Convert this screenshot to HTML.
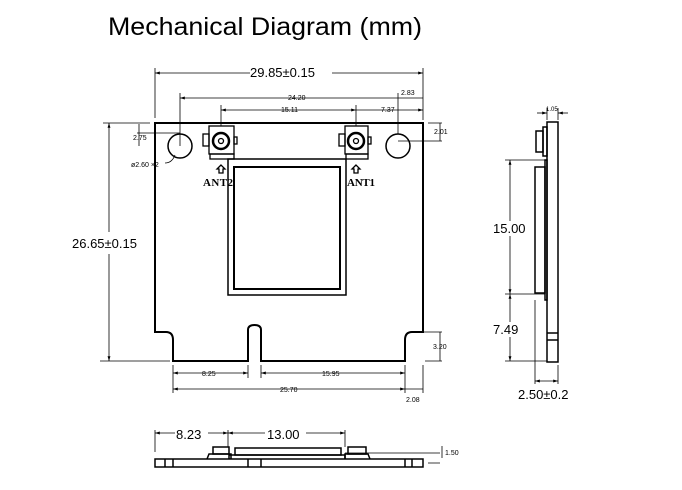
<!DOCTYPE html>
<html><head><style>
body{margin:0;background:#fff;width:682px;height:490px;overflow:hidden}
svg{display:block}
text{font-family:"Liberation Sans",sans-serif;fill:#000}
.s{font-size:7px}
</style></head><body>
<svg width="682" height="490" viewBox="0 0 682 490">
<defs>
<marker id="a" viewBox="0 0 10 10" refX="10" refY="5" markerWidth="6" markerHeight="6" orient="auto-start-reverse"><path d="M0,2 L10,5 L0,8z" fill="#000"/></marker>
</defs>
<text x="108" y="35" font-size="25" textLength="314" lengthAdjust="spacingAndGlyphs">Mechanical Diagram (mm)</text>
<g fill="none" stroke="#000" stroke-width="2">
<path d="M155,123 H423 V332 H412 Q405,332 405,340 V361 H261 V330 Q261,325 254.5,325 Q248,325 248,330 V361 H173 V340 Q173,332 166,332 H155 Z"/>
<rect x="228" y="159" width="118" height="136" stroke-width="1.5"/>
<rect x="234" y="167" width="106" height="122" stroke-width="2"/>
<circle cx="180" cy="146" r="12" stroke-width="1.5"/>
<circle cx="398" cy="146" r="12" stroke-width="1.5"/>
</g>
<g fill="none" stroke="#000" stroke-width="1.3">
<rect x="209" y="126" width="25" height="28"/><rect x="203" y="134" width="6" height="12"/><rect x="234" y="137" width="3" height="7"/>
<circle cx="221" cy="141" r="8" stroke-width="2.5"/><circle cx="221" cy="141" r="2.5"/>
<rect x="210" y="154" width="24" height="5"/>
<rect x="345" y="126" width="23" height="28"/><rect x="339" y="134" width="6" height="12"/><rect x="368" y="137" width="3" height="7"/>
<circle cx="356" cy="141" r="8" stroke-width="2.5"/><circle cx="356" cy="141" r="2.5"/>
<rect x="346" y="154" width="22" height="5"/>
<path d="M221,165 l-4,4 h2 v4 h4 v-4 h2z M356,165 l-4,4 h2 v4 h4 v-4 h2z"/>
</g>
<text x="203" y="186" font-size="11" font-weight="bold" textLength="30" style="font-family:'Liberation Serif',serif">ANT2</text>
<text x="347" y="186" font-size="11" font-weight="bold" textLength="28" style="font-family:'Liberation Serif',serif">ANT1</text>
<g stroke="#000" stroke-width="0.8" fill="none">
<path d="M155,68 V118 M423,68 V118 M180,93 V146 M423,93 V120 M221,105 V126 M356,105 V126"/>
<line x1="155" y1="73" x2="252" y2="73" marker-start="url(#a)"/><line x1="332" y1="73" x2="423" y2="73" marker-end="url(#a)"/>
<line x1="180" y1="98" x2="423" y2="98" marker-start="url(#a)"/>
<line x1="398" y1="93" x2="398" y2="134"/>
<line x1="221" y1="110" x2="356" y2="110" marker-start="url(#a)" marker-end="url(#a)"/>
<line x1="356" y1="110" x2="423" y2="110" marker-end="url(#a)"/>
<path d="M103,123 H150 M100,361 H170"/>
<line x1="109" y1="123" x2="109" y2="232" marker-start="url(#a)"/><line x1="109" y1="254" x2="109" y2="361" marker-end="url(#a)"/>
<path d="M137,133 H180 M139,124 V146"/>
<path d="M428,123 H442 M398,141 H442 M440,123 V141"/>
<path d="M410,332 H442 M425,361 H442 M440,332 V361"/>
<path d="M173,365 V393 M248,365 V378 M261,365 V378 M405,365 V393 M423,365 V393"/>
<line x1="173" y1="373" x2="248" y2="373" marker-start="url(#a)" marker-end="url(#a)"/>
<line x1="261" y1="373" x2="405" y2="373" marker-start="url(#a)" marker-end="url(#a)"/>
<line x1="173" y1="389" x2="405" y2="389" marker-start="url(#a)" marker-end="url(#a)"/>
<line x1="405" y1="389" x2="423" y2="389"/>
<path d="M165,163 Q172,163 175,155"/>
</g>
<rect x="250" y="66" width="82" height="14" fill="#fff"/>
<text x="250" y="77" font-size="13">29.85±0.15</text>
<text x="288" y="100" class="s">24.20</text>
<text x="401" y="95" class="s">2.83</text>
<text x="281" y="112" class="s">15.11</text>
<text x="381" y="112" class="s">7.37</text>
<text x="133" y="140" class="s">2.75</text>
<text x="131" y="167" class="s">ø2.60 ×2</text>
<text x="434" y="134" class="s">2.01</text>
<text x="433" y="349" class="s">3.20</text>
<rect x="72" y="236" width="66" height="14" fill="#fff"/>
<text x="72" y="248" font-size="13">26.65±0.15</text>
<text x="202" y="376" class="s">8.25</text>
<text x="322" y="376" class="s">15.95</text>
<text x="280" y="392" class="s">25.70</text>
<text x="406" y="402" class="s">2.08</text>
<!-- bottom view -->
<g fill="none" stroke="#000" stroke-width="1.5">
<rect x="155" y="459" width="268" height="8"/>
<path d="M165,459 V467 M173,459 V467 M248,459 V467 M261,459 V467 M405,459 V467 M412,459 V467"/>
<rect x="213" y="447" width="16" height="7"/><path d="M207,459 L209,454 H231 V459"/>
<rect x="235" y="448" width="106" height="7"/><path d="M229,459 V455 H345 V459"/>
<rect x="348" y="447" width="18" height="7"/><path d="M345,459 V454 H368 L370,459"/>
</g>
<g stroke="#000" stroke-width="0.8" fill="none">
<path d="M155,430 V452 M228,430 V447 M345,430 V447 M345,453 H440 M428,463 H440 M442,446 V458"/>
<line x1="155" y1="433" x2="175" y2="433" marker-start="url(#a)"/><line x1="208" y1="433" x2="228" y2="433" marker-end="url(#a)"/>
<line x1="228" y1="433" x2="265" y2="433" marker-start="url(#a)"/><line x1="306" y1="433" x2="345" y2="433" marker-end="url(#a)"/>
</g>
<text x="176" y="439" font-size="13">8.23</text>
<text x="267" y="439" font-size="13">13.00</text>
<text x="445" y="455" class="s">1.50</text>
<!-- side view -->
<g fill="none" stroke="#000" stroke-width="1.5">
<rect x="547" y="122" width="11" height="240"/>
<rect x="536" y="131" width="7" height="21"/><rect x="543" y="127" width="4" height="29"/>
<rect x="535" y="167" width="10" height="126"/><rect x="545" y="160" width="2" height="140"/>
<path d="M547,333 H558 M547,340 H558"/>
</g>
<g stroke="#000" stroke-width="0.8" fill="none">
<path d="M505,160 H545 M505,294 H545 M505,361 H547 M535,300 V384 M558,365 V384 M547,108 V120 M558,108 V120"/>
<line x1="510" y1="160" x2="510" y2="294" marker-start="url(#a)" marker-end="url(#a)"/>
<line x1="510" y1="294" x2="510" y2="361" marker-start="url(#a)" marker-end="url(#a)"/>
<line x1="535" y1="381" x2="558" y2="381" marker-start="url(#a)" marker-end="url(#a)"/>
<line x1="537" y1="113" x2="547" y2="113" marker-end="url(#a)"/><line x1="568" y1="113" x2="558" y2="113" marker-end="url(#a)"/>
</g>
<text x="546" y="111" font-size="6">1.05</text>
<rect x="493" y="221" width="34" height="15" fill="#fff"/>
<text x="493" y="233" font-size="13">15.00</text>
<rect x="493" y="322" width="26" height="15" fill="#fff"/>
<text x="493" y="334" font-size="13">7.49</text>
<text x="518" y="399" font-size="13">2.50±0.2</text>
</svg>
</body></html>
